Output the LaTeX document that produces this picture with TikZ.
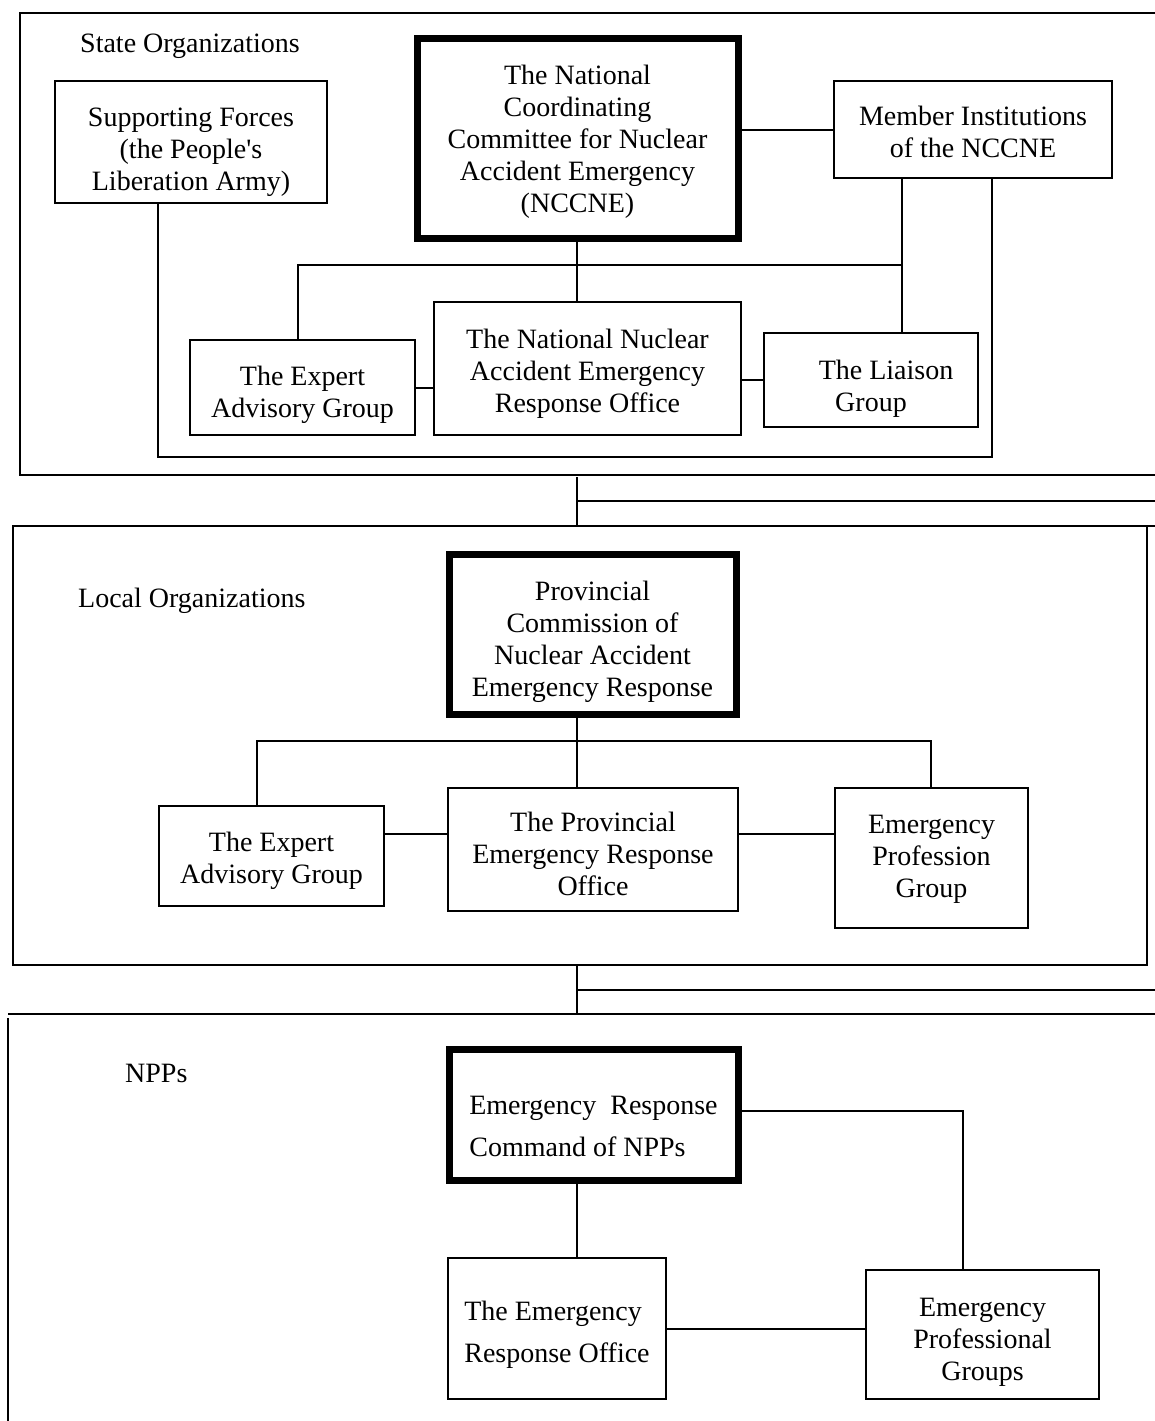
\documentclass[tikz,border=0pt]{standalone}
\usepackage{fontspec}
\setmainfont{Liberation Serif}[Ligatures=TeXOff]
\newcommand{\pushdn}[1]{\rule{0pt}{#1pt}}
\tikzset{
  every picture/.style={x=1pt,y=-1pt},
  box/.style={draw, line width=2pt, inner sep=0pt, align=center,
    font=\fontsize{28}{32}\selectfont},
  thickbox/.style={box, line width=7pt},
  lbl/.style={anchor=west, inner sep=0pt, font=\fontsize{28}{32}\selectfont},
  conn/.style={line width=2pt},
  frame/.style={line width=2pt},
}
\begin{document}
\begin{tikzpicture}
\useasboundingbox (0,0) rectangle (1155,1421);
% ---------- frames ----------
\draw[frame] (1155,13) -- (20,13) -- (20,475) -- (1155,475);
\draw[frame] (1155,526) -- (13,526) -- (13,965) -- (1147,965) -- (1147,526);
\draw[frame] (1155,1014) -- (8,1014);
\draw[frame] (8,1018) -- (8,1421);
% ---------- labels ----------
\node[lbl] (lstate) at (80,46) {State Organizations};
\node[lbl] (llocal) at (78,601) {Local Organizations};
\node[lbl] (lnpp) at (125,1073) {NPPs};
% ---------- state ----------
\node[box, minimum width=272, minimum height=122] (supp) at (191,142)
  {\pushdn{39}Supporting Forces\\(the People's\\Liberation Army)};
\node[thickbox, minimum width=321, minimum height=199] (nccne) at (577.5,138.5)
  {\pushdn{25}The National\\Coordinating\\Committee for Nuclear\\Accident Emergency\\(NCCNE)};
\node[box, minimum width=278, minimum height=97] (member) at (973,129.5)
  {\pushdn{25}Member Institutions\\of the NCCNE};
\node[box, minimum width=225, minimum height=95] (expert) at (302.5,387.5)
  {\pushdn{35}The Expert\\Advisory Group};
\node[box, minimum width=307, minimum height=133] (office) at (587.5,368.5)
  {\pushdn{29}The National Nuclear\\Accident Emergency\\Response Office};
\node[box, minimum width=214, minimum height=94] (liaison) at (871,380)
  {\pushdn{37}\hspace{30pt}The Liaison\\Group};
\coordinate (sx) at (577,475);
\coordinate (busL) at (298,265);
\coordinate (busR) at (902,265);
\coordinate (loopR) at (992,457);
\coordinate (loopL) at (158,457);
\draw[conn] (member.west) -- (member.west -| nccne.east);
\draw[conn] (nccne.south -| sx) -- (office.north -| sx);
\draw[conn] (expert.north -| busL) -- (busL) -- (busR);
\draw[conn] (member.south -| busR) -- (liaison.north -| busR);
\draw[conn] (expert.east) -- (expert.east -| office.west);
\draw[conn] (liaison.west) -- (liaison.west -| office.east);
\draw[conn] (member.south -| loopR) -- (loopR) -- (loopL) -- (supp.south -| loopL);
% ---------- link state -> local ----------
\coordinate (j1) at (577,501);
\coordinate (j1r) at (1155,501);
\draw[conn] (577,477) -- (577,526);
\draw[conn] (j1) -- (j1r);
% ---------- local ----------
\node[thickbox, minimum width=287, minimum height=160] (prov) at (592.5,634)
  {\pushdn{35}Provincial\\Commission of\\Nuclear Accident\\Emergency Response};
\node[box, minimum width=225, minimum height=100] (expert2) at (271.5,856)
  {\pushdn{29}The Expert\\Advisory Group};
\node[box, minimum width=290, minimum height=123] (poffice) at (593,849.5)
  {\pushdn{29}The Provincial\\Emergency Response\\Office};
\node[box, minimum width=193, minimum height=140] (ep) at (931.5,858)
  {\pushdn{20}Emergency\\Profession\\Group};
\coordinate (bus2L) at (257,741);
\coordinate (bus2R) at (931,741);
\draw[conn] (prov.south -| sx) -- (poffice.north -| sx);
\draw[conn] (expert2.north -| bus2L) -- (bus2L) -- (bus2R) -- (ep.north -| bus2R);
\draw[conn] (poffice.west |- 0,834) -- (expert2.east |- 0,834);
\draw[conn] (poffice.east |- 0,834) -- (ep.west |- 0,834);
% ---------- link local -> NPPs ----------
\coordinate (j2) at (577,990);
\coordinate (j2r) at (1155,990);
\draw[conn] (577,965) -- (577,1014);
\draw[conn] (j2) -- (j2r);
% ---------- NPPs ----------
\node[thickbox, align=left, minimum width=289, minimum height=131] (erc) at (593.5,1114.5)
  {\pushdn{42}Emergency\ \ Response\\[10pt]Command of NPPs};
\node[box, align=left, minimum width=218, minimum height=141] (eoff) at (557,1328.5)
  {\pushdn{32}The Emergency\\[10pt]Response Office};
\node[box, minimum width=233, minimum height=129] (epg) at (982.5,1334.5)
  {\pushdn{33}Emergency\\Professional\\Groups};
\coordinate (ercR) at (963,1111);
\draw[conn] (erc.east |- ercR) -- (ercR) -- (epg.north -| ercR);
\draw[conn] (erc.south -| sx) -- (eoff.north -| sx);
\draw[conn] (eoff.east |- 0,1329) -- (epg.west |- 0,1329);
\end{tikzpicture}
\end{document}
